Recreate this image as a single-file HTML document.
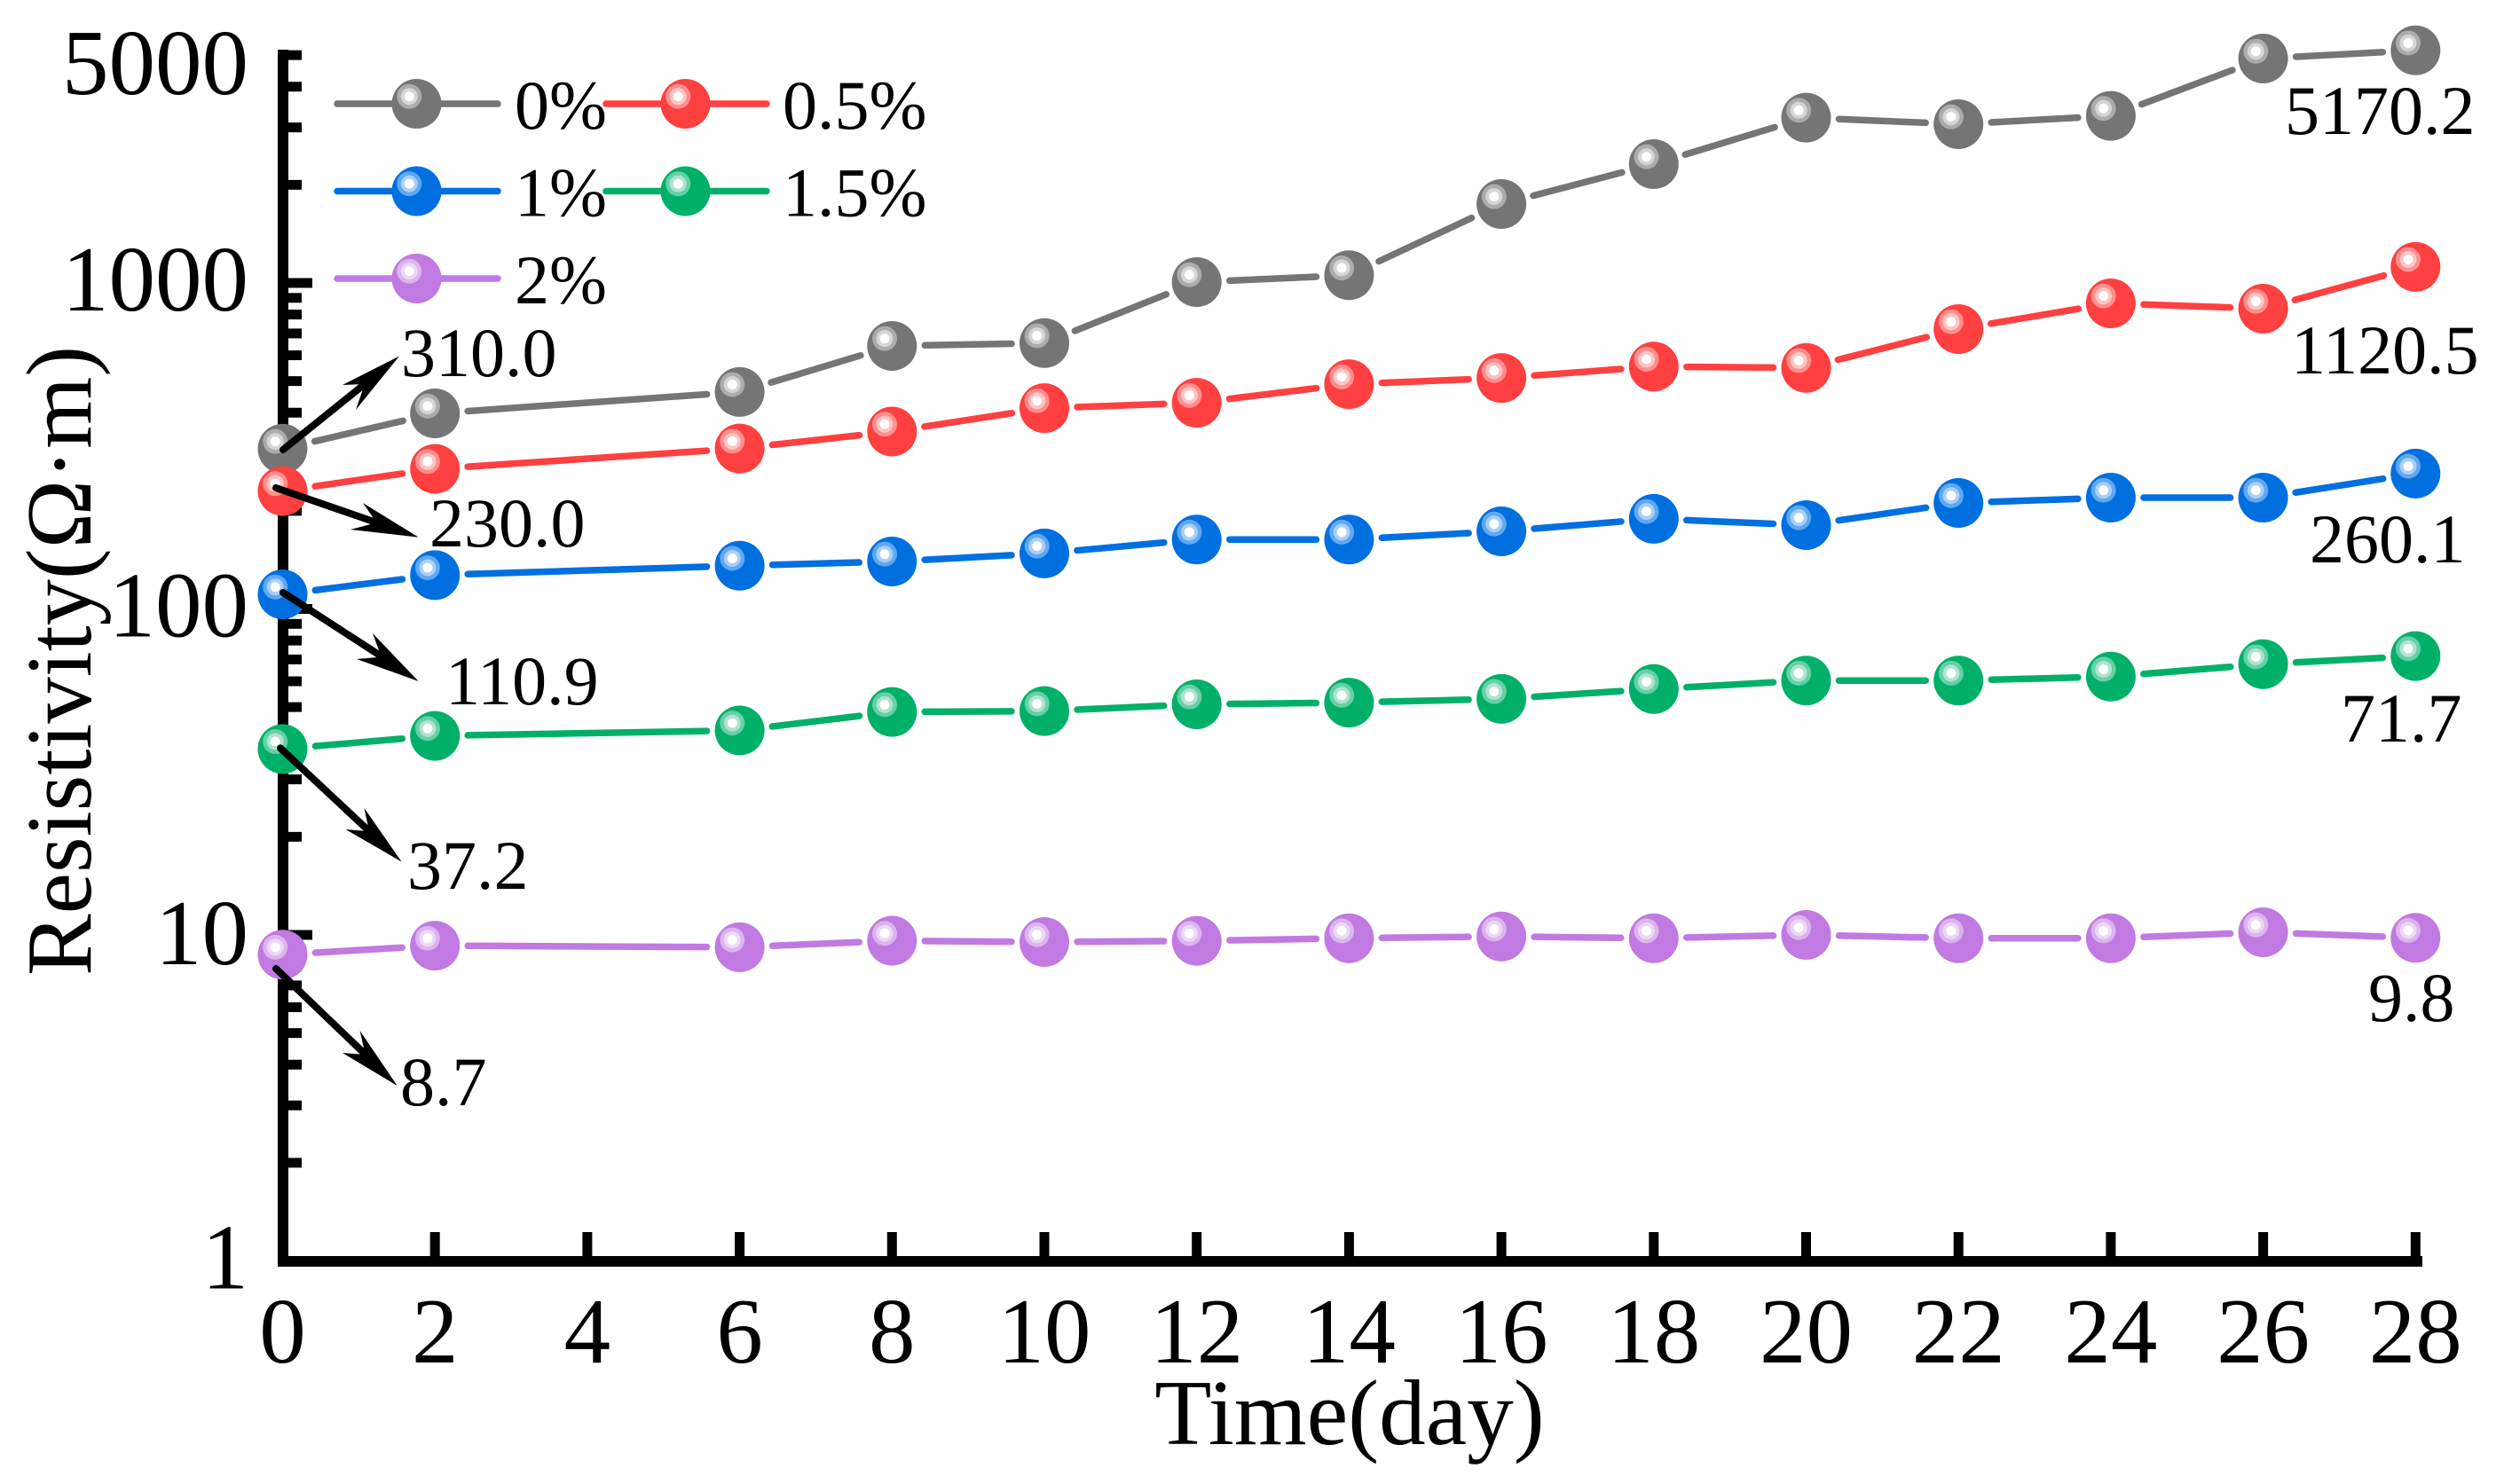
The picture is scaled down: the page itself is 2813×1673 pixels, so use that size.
<!DOCTYPE html>
<html lang="en">
<head>
<meta charset="utf-8">
<title>Resistivity over time</title>
<style>
  html, body { margin: 0; padding: 0; background: #ffffff; }
  svg { display: block; }
  text { font-family: "Liberation Serif", serif; fill: #000; }
  .tick-label { font-size: 105px; }
  .axis-title { font-size: 105px; }
  .legend-label, .value-label { font-size: 78px; }
</style>
</head>
<body>
<svg id="chart" width="2813" height="1673" viewBox="0 0 2813 1673" xmlns="http://www.w3.org/2000/svg">
  <rect width="2813" height="1673" fill="#ffffff"/>
  <g id="axis-layer"></g>
  <text class="axis-title" x="1521" y="1628" text-anchor="middle">Time(day)</text>
  <text class="axis-title" x="0" y="0" textLength="710" lengthAdjust="spacingAndGlyphs" transform="translate(102 1100) rotate(-90)">Resistivity(Ω·m)</text>
  <g id="legend-layer"></g>
  <g id="series-layer"></g>

  <g>
    <g>
      <line x1="319" y1="507" x2="411" y2="433" stroke="#000" stroke-width="8" stroke-linecap="round"/>
      <polygon points="450,401.5 386,434 411,433 401,462" fill="#000"/>
    </g>
    <g>
      <line x1="311" y1="550" x2="424" y2="589" stroke="#000" stroke-width="8" stroke-linecap="round"/>
      <polygon points="471.6,605.6 409,567 424.4,589.2 395,597" fill="#000"/>
    </g>
    <g>
      <line x1="319" y1="668" x2="430" y2="740" stroke="#000" stroke-width="8" stroke-linecap="round"/>
      <polygon points="471.6,768 420,714 429.8,740.6 402,743" fill="#000"/>
    </g>
    <g>
      <line x1="316" y1="843.4" x2="416" y2="937" stroke="#000" stroke-width="8" stroke-linecap="round"/>
      <polygon points="452.6,971.5 410.5,911 416,937.3 389.5,935" fill="#000"/>
    </g>
    <g>
      <line x1="311" y1="1092" x2="412" y2="1189" stroke="#000" stroke-width="8" stroke-linecap="round"/>
      <polygon points="447.7,1224 405.6,1162 411.7,1189 386,1187" fill="#000"/>
    </g>
  </g>

  <g>
    <text class="value-label" x="452" y="424">310.0</text>
    <text class="value-label" x="484" y="616">230.0</text>
    <text class="value-label" x="502" y="794">110.9</text>
    <text class="value-label" x="459" y="1002">37.2</text>
    <text class="value-label" x="451" y="1246">8.7</text>
    <text class="value-label" x="2575" y="151">5170.2</text>
    <text class="value-label" x="2582" y="421">1120.5</text>
    <text class="value-label" x="2603" y="634">260.1</text>
    <text class="value-label" x="2638" y="836">71.7</text>
    <text class="value-label" x="2669" y="1151">9.8</text>
  </g>
</svg>

<script>
const days = [0, 2, 6, 8, 10, 12, 14, 16, 18, 20, 22, 24, 26, 28];
const series0 = [310, 398, 463, 641, 654, 1006, 1056, 1747, 2315, 3215, 3070, 3256, 4880, 5170.2];
const series05 = [230, 269, 310.6, 350, 413, 429, 489, 511, 554, 549, 722, 866, 834, 1120.5];
const series1 = [110.9, 127, 135.7, 139.8, 148, 163.3, 163.3, 173, 189, 180.8, 211.4, 219.5, 219.5, 260.1];
const series15 = [37.2, 40.8, 42.4, 48.3, 48.6, 51, 51.6, 53, 56.8, 60.3, 60.3, 62, 67.7, 71.7];
const series2 = [8.7, 9.27, 9.17, 9.6, 9.51, 9.59, 9.77, 9.89, 9.77, 10, 9.77, 9.77, 10.19, 9.8];

const xTickLabels = [0, 2, 4, 6, 8, 10, 12, 14, 16, 18, 20, 22, 24, 26, 28];
const yTickLabels = [1, 10, 100, 1000, 5000];
const yMajorTicks = [10, 100, 1000];
const yMinorTicks = [2, 3, 4, 5, 6, 7, 8, 9, 20, 30, 40, 50, 60, 70, 80, 90, 200, 300, 400, 500, 600, 700, 800, 900, 2000, 3000, 4000, 5000];

const seriesNames = ["0%", "0.5%", "1%", "1.5%", "2%"];
const seriesValues = [series0, series05, series1, series15, series2];
const palettes = [
  ["#757575", "#acacac", "#d6d6d6"],
  ["#ff4040", "#ff8f8f", "#ffc4c4"],
  ["#006fe0", "#60a8f0", "#a8d0f8"],
  ["#00b068", "#66d0a8", "#b0e4d0"],
  ["#c07ae2", "#dcb4ee", "#ecd8f6"]
];

const NS = "http://www.w3.org/2000/svg";
function xScale(day) { return 318.5 + 85.85 * day; }
function yScale(value) { return 1421.5 - 367.5 * Math.log10(value); }

function make(parent, tag, attrs, text) {
  const el = document.createElementNS(NS, tag);
  for (const key in attrs) el.setAttribute(key, attrs[key]);
  if (text !== undefined) el.textContent = text;
  parent.appendChild(el);
  return el;
}

function drawBall(parent, cx, cy, colors) {
  const g = make(parent, "g", {});
  make(g, "circle", { cx: cx, cy: cy, r: 28, fill: colors[0] });
  make(g, "circle", { cx: cx - 8.3, cy: cy - 8.3, r: 14, fill: colors[1] });
  make(g, "circle", { cx: cx - 8.3, cy: cy - 8.3, r: 9.5, fill: colors[2] });
  make(g, "circle", { cx: cx - 8.3, cy: cy - 8.3, r: 5.5, fill: "#ffffff" });
  return g;
}

const axisLayer = document.getElementById("axis-layer");
const yLine = make(axisLayer, "rect", { x: 313, y: 56, width: 12, height: 1372, fill: "#000" });


const xLine = make(axisLayer, "rect", { x: 313, y: 1416, width: 2417, height: 12, fill: "#000" });



yMinorTicks.forEach(function (v) {
  const t = make(axisLayer, "rect", { x: 313, y: yScale(v) - 5.5, width: 27, height: 11, fill: "#000" });
  
  
});
yMajorTicks.forEach(function (v) {
  const t = make(axisLayer, "rect", { x: 313, y: yScale(v) - 5.5, width: 39, height: 11, fill: "#000" });
  
  
});
yTickLabels.forEach(function (v) {
  const dy = v === 5000 ? 44 : (v === 10 ? 33 : 31);
  const t = make(axisLayer, "text", { class: "tick-label", x: 280, y: yScale(v) + dy, "text-anchor": "end" }, String(v));
  
  
});
xTickLabels.forEach(function (d) {
  if (d !== 0) {
    const t = make(axisLayer, "rect", { x: xScale(d) - 5.5, y: 1389, width: 11, height: 30, fill: "#000" });
    
    
  }
  const l = make(axisLayer, "text", { class: "tick-label", x: xScale(d), y: 1536, "text-anchor": "middle" }, String(d));
  
  
});

const legendLayer = document.getElementById("legend-layer");
seriesNames.forEach(function (name, i) {
  const col = i === 4 ? 0 : i % 2;
  const row = Math.floor(i / 2);
  const left = col === 0 ? 378 : 681;
  const rowY = 117 + row * 98.5;
  const entry = make(legendLayer, "g", {});
  
  
  make(entry, "line", { x1: left + 2, y1: rowY, x2: left + 183, y2: rowY, stroke: palettes[i][0], "stroke-width": 7.5, "stroke-linecap": "round" });
  drawBall(entry, left + 91.5, rowY, palettes[i]);
  make(entry, "text", { class: "legend-label", x: col === 0 ? 580 : 882, y: rowY + 28 }, name);
});

const seriesLayer = document.getElementById("series-layer");
seriesValues.forEach(function (values, i) {
  const g = make(seriesLayer, "g", {});
  
  
  const gap = 37;
  for (let k = 0; k < values.length - 1; k++) {
    const x1 = xScale(days[k]), y1 = yScale(values[k]);
    const x2 = xScale(days[k + 1]), y2 = yScale(values[k + 1]);
    const len = Math.hypot(x2 - x1, y2 - y1);
    const ux = (x2 - x1) / len, uy = (y2 - y1) / len;
    const seg = make(g, "line", {
      x1: x1 + ux * gap, y1: y1 + uy * gap,
      x2: x2 - ux * gap, y2: y2 - uy * gap,
      stroke: palettes[i][0], "stroke-width": 7.5, "stroke-linecap": "round"
    });
    
    
  }
  values.forEach(function (v, k) {
    const ball = drawBall(g, xScale(days[k]), yScale(v), palettes[i]);
    
    
  });
});
</script>
</body>
</html>
